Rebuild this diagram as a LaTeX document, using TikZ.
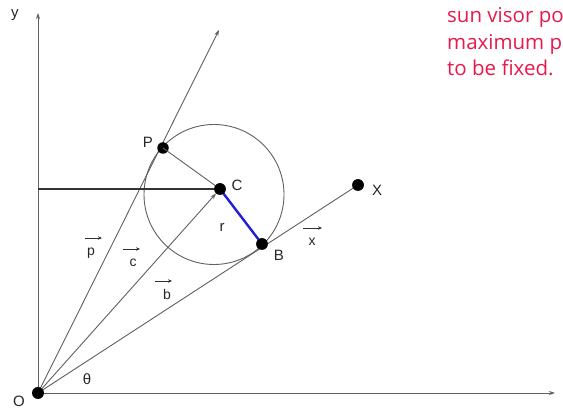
\documentclass[tikz,border=0pt]{standalone}
\usepackage{fontspec}
\setmainfont{Liberation Sans}
\newfontfamily\notefont{Open Sans}
\usetikzlibrary{arrows.meta}
\definecolor{notered}{HTML}{E8184B}
\definecolor{linegray}{HTML}{606060}
\definecolor{segblue}{HTML}{1F1FD6}
\tikzset{
  thin line/.style={draw=linegray, line width=0.9pt},
  arr/.style={-{Stealth[length=6pt,width=4pt]}},
  varr/.style={draw=black!80, line width=0.8pt, -{Stealth[length=4pt,width=3.5pt]}},
  dot/.style={circle, fill=black, inner sep=0pt, minimum size=11.5pt},
  lbl/.style={font=\fontsize{15}{15}\selectfont, text=black!85, inner sep=0pt},
  vlbl/.style={font=\fontsize{14}{14}\selectfont, text=black!85, inner sep=0pt},
  note/.style={anchor=base west, text=notered, inner sep=0pt,
    font=\notefont\fontsize{20.5}{26}\selectfont},
}
\begin{document}
\begin{tikzpicture}[x=1pt,y=1pt]
\useasboundingbox (0,0) rectangle (563,409);
% points
\coordinate (O) at (38,16);
\coordinate (Ytop) at (38,396);
\coordinate (Xend) at (555,16);
\coordinate (Rtop) at (219,379);
\coordinate (H) at (38,220);
\coordinate (Cc) at (214,214.5);
% axes
\draw[thin line, arr] (O) -- (Ytop);
\draw[thin line, arr] (O) -- (Xend);
% rays
\draw[thin line, arr] (O) -- (Rtop);
\draw[thin line] (Cc) circle (70);
\node[dot] (C) at (220,220) {};
\node[dot] (P) at (163,261) {};
\node[dot] (B) at (262,165) {};
\node[dot] (X) at (358,224) {};
\draw[thin line, arr] (O) -- (X.center);
\draw[line width=1.9pt, black!80] (H) -- (C.center);
\draw[thin line, arr] (O) -- (C);
\node[dot, minimum size=12pt] (Od) at (O) {};
\draw[thin line] (P.center) -- (C.center);
\draw[segblue, line width=2.4pt] (C.center) -- (B.center);
\node[dot] at (C) {};
\node[dot] at (B) {};
\node[dot] at (X) {};
% labels
\node[lbl] (Pl) at (148,267) {P};
\node[lbl] (Cl) at (237,224) {C};
\node[lbl] (Bl) at (279,154) {B};
\node[lbl] (Xl) at (377,219) {X};
\node[lbl] (rl) at (222,182) {r};
\node[lbl] (Ol) at (19,8) {O};
\node[lbl] (yl) at (15,394) {y};
\node[lbl] (xl) at (568,17) {x};
\node[lbl] (thl) at (87,30) {θ};
% vector labels
\node[vlbl] (pv) at (91,156) {p};
\node[vlbl] (cv) at (133,146) {c};
\node[vlbl] (bv) at (167,114) {b};
\node[vlbl] (xv) at (312,167) {x};
\draw[varr] ([shift={(-6,15)}]pv.center) -- ([shift={(11,15)}]pv.center);
\draw[varr] ([shift={(-10,14)}]cv.center) -- ([shift={(7,14)}]cv.center);
\draw[varr] ([shift={(-12,14)}]bv.center) -- ([shift={(5,14)}]bv.center);
\draw[varr] ([shift={(-9,14)}]xv.center) -- ([shift={(10,14)}]xv.center);
% note
\node[note] (note1) at (447,386) {sun visor position};
\node[note] (note2) at (447,359.5) {maximum position};
\node[note] (note3) at (447,333) {to be fixed.};
\end{tikzpicture}
\end{document}
